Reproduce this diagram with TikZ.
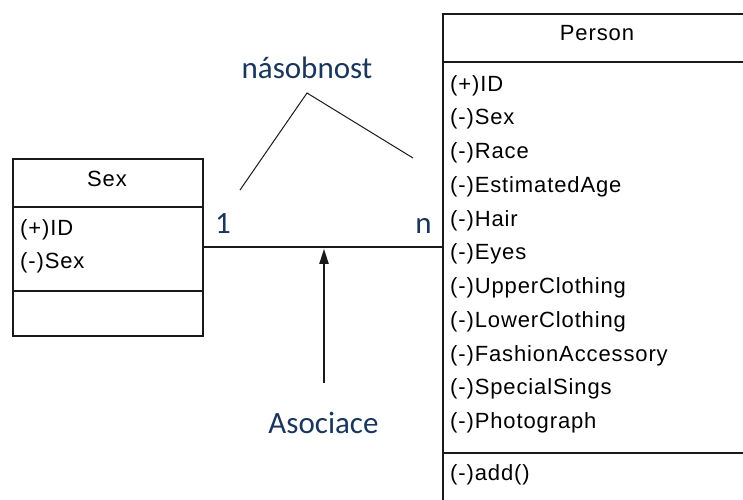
\documentclass[tikz,border=0pt]{standalone}
\usepackage{fontspec}
\setmainfont{Liberation Sans}
\newfontfamily\umlfont[LetterSpace=4.0]{Liberation Sans}
\newfontfamily\notefont{Carlito}
\usetikzlibrary{arrows.meta}
\definecolor{notecol}{HTML}{1B365C}
\definecolor{edge}{HTML}{1A1A1A}

\begin{document}
\begin{tikzpicture}[x=1pt,y=-1pt,
  umlbox/.style={draw=edge, line width=1.5pt, inner sep=0pt, anchor=north west},
  part/.style={draw=edge, line width=1.5pt},
  attr/.style={anchor=base west, inner sep=0pt, font=\umlfont\fontsize{22}{26}\selectfont},
  head/.style={anchor=base, inner sep=0pt, font=\umlfont\fontsize{22}{26}\selectfont},
  note/.style={anchor=base, inner sep=0pt, text=notecol, font=\notefont\fontsize{31}{36}\selectfont},
  link/.style={draw=edge, line width=1.8pt},
  hint/.style={draw=edge, line width=1pt}
]
\useasboundingbox (0,0) rectangle (743,499);
\clip (0,0) rectangle (743,499);
\fill[white] (0,0) rectangle (743,499);

% class Sex
\node[umlbox, minimum width=190pt, minimum height=177pt] (sex) at (12,158) {};
\draw[part] ([yshift=-49pt]sex.north west) -- ([yshift=-49pt]sex.north east);
\draw[part] ([yshift=-133pt]sex.north west) -- ([yshift=-133pt]sex.north east);
\node[head] (sexhead) at (107,186) {Sex};
\node[attr] (sexid) at (20,235) {(+)ID};
\node[attr] (sexsex) at (20,268.5) {(-)Sex};

% class Person (runs past the right and bottom edges)
\node[umlbox, minimum width=310pt, minimum height=520pt] (person) at (442,13) {};
\draw[part] ([yshift=-49pt]person.north west) -- ([yshift=-49pt]person.north east);
\draw[part] ([yshift=-440pt]person.north west) -- ([yshift=-440pt]person.north east);
\node[head] (personhead) at (597,40) {Person};
\foreach \txt [count=\i from 0] in {(+)ID,(-)Sex,(-)Race,(-)EstimatedAge,(-)Hair,(-)Eyes,
    (-)UpperClothing,(-)LowerClothing,(-)FashionAccessory,(-)SpecialSings,(-)Photograph}
  \node[attr] (pattr\i) at (450,91+33.75*\i) {\txt};
\node[attr] (padd) at (450,480) {(-)add()};

% association
\draw[link] (sex.east) -- (sex.east -| person.west);
\coordinate (asoc) at (324,383);
\draw[link, -{Triangle[width=9pt,length=15pt]}, shorten >=1.5pt] (asoc) -- (asoc |- sex.east);

% multiplicity pointer
\coordinate (mone) at (240,190);
\coordinate (mtop) at (307,93);
\coordinate (mmany) at (413,158);
\draw[hint] (mone) -- (mtop) -- (mmany);

% labels
\node[note] (mult) at (307,78) {násobnost};
\node[note] (one) at (223,233) {1};
\node[note] (many) at (423.5,233) {n};
\node[note] (asoclabel) at (323.5,433) {Asociace};
\end{tikzpicture}
\end{document}
